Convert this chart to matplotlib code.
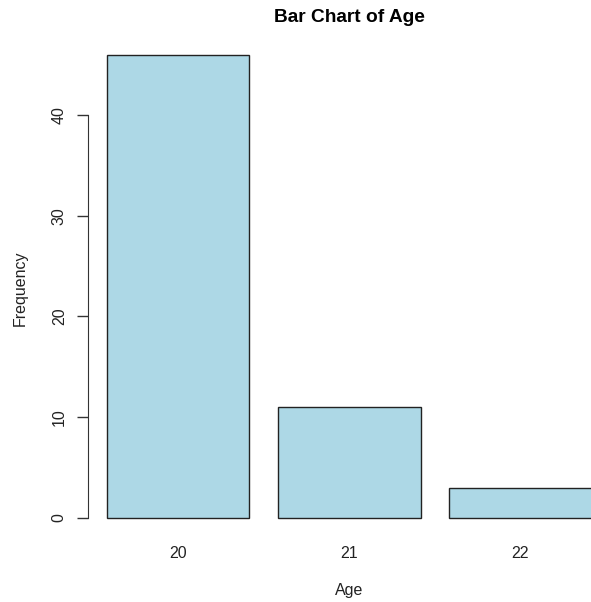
import matplotlib.pyplot as plt
import numpy as np

plt.rcParams['font.family'] = ['Liberation Sans', 'DejaVu Sans']

ages = ['20', '21', '22']
counts = [46, 11, 3]

W, H = 591, 602
fig = plt.figure(figsize=(W / 100, H / 100), dpi=100)

# R barplot geometry: width 1, space 0.2, axes extended 4%
left_px, right_px = 87.6, 610.9
top_px, bottom_px = 36.0, 536.5
ax = fig.add_axes([left_px / W, 1 - bottom_px / H,
                   (right_px - left_px) / W, (bottom_px - top_px) / H])

x = 0.2 + np.arange(len(counts)) * 1.2 + 0.5
ax.bar(x, counts, width=1.0, color='#ADD8E6', edgecolor='#222222', linewidth=1.0)

ax.set_xlim(0.064, 3.736)
ax.set_ylim(-1.84, 47.84)

for s in ['top', 'right', 'bottom']:
    ax.spines[s].set_visible(False)
ax.spines['left'].set_bounds(0, 40)
ax.spines['left'].set_color('#333333')

fs = 11.5
ax.set_yticks([0, 10, 20, 30, 40])
ax.set_yticklabels(['0', '10', '20', '30', '40'], rotation=90, va='center', fontsize=fs)
ax.tick_params(axis='y', length=8, width=1, color='#333333', pad=7, labelcolor='#222222')

ax.set_xticks(x)
ax.set_xticklabels(ages, fontsize=fs)
ax.tick_params(axis='x', length=0, pad=6.5, labelcolor='#222222')

fig.text(349 / W, 1 - 17 / H, 'Bar Chart of Age', ha='center', va='center',
         fontsize=13.8, fontweight='bold')
fig.text(349 / W, 1 - 591 / H, 'Age', ha='center', va='center', fontsize=fs, color='#222222')
fig.text(20 / W, 1 - 288 / H, 'Frequency', ha='center', va='center', rotation=90,
         fontsize=fs, color='#222222')

fig.savefig('out.png', dpi=100)
